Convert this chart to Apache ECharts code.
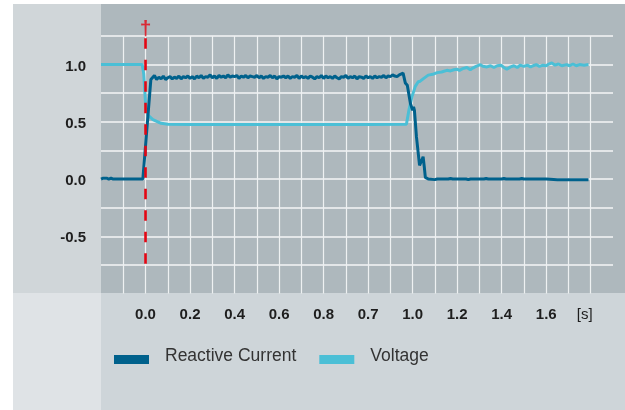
<!DOCTYPE html>
<html>
<head>
<meta charset="utf-8">
<script src="https://cdn.jsdelivr.net/npm/echarts@6/dist/echarts.min.js"></script>
<style>
html,body{margin:0;padding:0;background:#fff;}
#chart{width:625px;height:410px;}
</style>
</head>
<body>
<div id="chart"></div>
<script>
// x positions are in axis-position units (one labelled step = 0.2)
var xTickLabels = ["0.0","0.2","0.4","0.6","0.8","0.7","1.0","1.2","1.4","1.6","[s]"];
var yTickLabels = [-0.5, 0.0, 0.5, 1.0];
var seriesNames = ["Reactive Current", "Voltage"];
var faultTime = 0;

var reactiveCurrent = [
  [-0.2,0],[-0.19,0.008],[-0.185,0],[-0.175,0.008],[-0.165,0],[-0.155,0.008],[-0.145,0],[-0.1,0],[-0.012,0],
  [0.024,0.87],
  [0.03,0.88],[0.04,0.905],[0.05,0.87],[0.06,0.89],[0.07,0.875],[0.08,0.9],[0.09,0.87],[0.10,0.885],[0.11,0.895],[0.12,0.875],
  [0.13,0.89],[0.14,0.88],[0.15,0.9],[0.16,0.875],[0.17,0.895],[0.18,0.885],[0.19,0.9],[0.20,0.88],[0.21,0.895],[0.22,0.875],
  [0.23,0.9],[0.24,0.885],[0.25,0.905],[0.26,0.88],[0.27,0.895],[0.28,0.89],[0.29,0.91],[0.30,0.885],[0.31,0.9],[0.32,0.88],
  [0.33,0.905],[0.34,0.89],[0.35,0.9],[0.36,0.885],[0.37,0.91],[0.38,0.89],[0.39,0.9],[0.40,0.895],[0.41,0.905],[0.42,0.88],
  [0.43,0.9],[0.44,0.89],[0.45,0.905],[0.46,0.885],[0.47,0.9],[0.48,0.895],[0.49,0.89],[0.50,0.905],[0.51,0.885],[0.52,0.9],
  [0.53,0.88],[0.54,0.895],[0.55,0.89],[0.56,0.905],[0.57,0.885],[0.58,0.9],[0.59,0.875],[0.60,0.895],[0.61,0.89],[0.62,0.9],
  [0.63,0.885],[0.64,0.9],[0.65,0.88],[0.66,0.895],[0.67,0.89],[0.68,0.905],[0.69,0.88],[0.70,0.9],[0.71,0.885],[0.72,0.895],
  [0.73,0.88],[0.74,0.9],[0.75,0.89],[0.76,0.875],[0.77,0.895],[0.78,0.885],[0.79,0.905],[0.80,0.88],[0.81,0.9],[0.82,0.885],
  [0.83,0.895],[0.84,0.88],[0.85,0.9],[0.86,0.885],[0.87,0.875],[0.88,0.895],[0.89,0.89],[0.90,0.905],[0.91,0.88],[0.92,0.895],
  [0.93,0.885],[0.94,0.9],[0.95,0.875],[0.96,0.895],[0.97,0.89],[0.98,0.88],[0.99,0.9],[1.00,0.885],[1.01,0.895],[1.02,0.88],
  [1.03,0.9],[1.04,0.885],[1.05,0.895],[1.06,0.89],[1.07,0.905],[1.08,0.885],[1.09,0.9],[1.10,0.895],[1.11,0.91],[1.12,0.9],
  [1.13,0.895],[1.14,0.91],[1.157,0.925],[1.167,0.84],[1.176,0.82],[1.19,0.66],[1.2,0.6],[1.204,0.63],[1.208,0.6],
  [1.217,0.37],[1.231,0.12],[1.24,0.16],[1.247,0.195],[1.252,0.11],[1.257,0.015],[1.27,0.0],
  [1.3,-0.005],[1.31,0],[1.36,0],[1.37,0.005],[1.38,0],[1.44,0],[1.45,-0.005],[1.46,0],[1.52,0],[1.53,0.005],[1.54,0],
  [1.6,0],[1.61,0.005],[1.62,0],[1.68,0],[1.69,0.005],[1.7,0],[1.8,0],[1.85,-0.005],[1.99,-0.005]
];

var voltage = [
  [-0.2,1.0],[-0.015,1.0],[-0.008,0.92],[0.0,0.66],[0.01,0.56],[0.033,0.52],[0.07,0.487],[0.1,0.478],[0.2,0.476],
  [0.6,0.476],[1.0,0.476],[1.172,0.478],[1.183,0.6],[1.197,0.72],[1.212,0.81],[1.225,0.85],[1.234,0.855],
  [1.25,0.88],[1.27,0.908],[1.29,0.915],[1.31,0.93],[1.33,0.935],[1.354,0.95],[1.37,0.945],[1.385,0.955],
  [1.399,0.96],[1.41,0.95],[1.425,0.965],[1.444,0.975],[1.459,0.955],[1.47,0.97],[1.485,0.985],[1.504,1.0],
  [1.515,0.985],[1.534,0.98],[1.55,0.99],[1.565,0.975],[1.58,0.99],[1.597,0.995],[1.61,0.975],[1.623,0.96],
  [1.64,0.98],[1.655,0.99],[1.67,0.975],[1.683,0.995],[1.7,0.985],[1.715,0.995],[1.73,0.98],[1.741,0.99],
  [1.755,1.0],[1.77,0.985],[1.785,0.995],[1.8,0.99],[1.812,1.005],[1.825,1.015],[1.84,0.995],[1.855,1.005],
  [1.87,0.99],[1.892,1.0],[1.905,0.99],[1.92,1.005],[1.935,0.99],[1.95,1.0],[1.97,0.995],[1.99,1.0]
];

var faultLine = [[faultTime,1.23],[faultTime,-0.74]];
var faultMark = [[faultTime,1.31]];

var colCurrent = "#00618c";
var colVoltage = "#4bbfd6";
var colFault = "#e30613";

var chart = echarts.init(document.getElementById('chart'), null, {renderer:'canvas'});
var option = {
  animation: false,
  backgroundColor: '#ffffff',
  graphic: [
    {type:'rect', z:-10, silent:true, shape:{x:13,y:4,width:88,height:289}, style:{fill:'#d0d6d9'}},
    {type:'rect', z:-10, silent:true, shape:{x:101,y:4,width:524,height:289}, style:{fill:'#aeb8bd'}},
    {type:'rect', z:-10, silent:true, shape:{x:13,y:293,width:88,height:117}, style:{fill:'#dfe3e6'}},
    {type:'rect', z:-10, silent:true, shape:{x:101,y:293,width:524,height:117}, style:{fill:'#ced5d9'}}
  ],
  grid: {left:101, right:12, top:36, bottom:116.5, containLabel:false},
  legend: {
    data: seriesNames,
    left: 114, top: 347, padding: 0,
    itemWidth: 35, itemHeight: 9, itemGap: 23,
    icon: 'rect',
    formatter: '{a|{name}}',
    textStyle: {
      fontFamily:'Liberation Sans', fontSize:17.5, color:'#333',
      rich: {a: {fontFamily:'Liberation Sans', fontSize:17.5, color:'#333', padding:[0,0,7,11]}}
    }
  },
  xAxis: {
    type:'value', min:-0.2, max:2.1, interval:0.1,
    axisLine:{show:false}, axisTick:{show:false},
    splitLine:{show:true, showMinLine:false, showMaxLine:false, lineStyle:{color:'#eef1f2', width:1.2}},
    axisLabel:{
      margin:14, fontFamily:'Liberation Sans', fontSize:15, fontWeight:'bold', color:'#1e1e1e',
      showMinLabel:false, showMaxLabel:false,
      formatter:function(v){
        var i = Math.round(v*10);
        if (i < 0 || i % 2 !== 0) return '';
        var k = i/2;
        if (k >= xTickLabels.length) return '';
        if (xTickLabels[k] === '[s]') return '{u|[s]}';
        return xTickLabels[k];
      },
      rich:{u:{fontFamily:'Liberation Sans', fontSize:15, fontWeight:'normal', color:'#1e1e1e', padding:[0,12,0,0]}}
    }
  },
  yAxis: {
    type:'value', min:-1.0, max:1.25, interval:0.25,
    axisLine:{show:false}, axisTick:{show:false},
    splitLine:{show:true, showMinLine:false, showMaxLine:true, lineStyle:{color:'#f4f6f7', width:1.5}},
    axisLabel:{
      margin:15, fontFamily:'Liberation Sans', fontSize:15, fontWeight:'bold', color:'#1e1e1e',
      formatter:function(v){
        for (var j=0;j<yTickLabels.length;j++){ if (Math.abs(yTickLabels[j]-v)<1e-6) return '{b|' + v.toFixed(1) + '}'; }
        return '';
      },
      rich:{b:{fontFamily:'Liberation Sans', fontSize:15, fontWeight:'bold', color:'#1e1e1e', padding:[4,0,0,0]}}
    }
  },
  series: [
    {name:seriesNames[1], type:'line', data:voltage, showSymbol:false, symbol:'none', z:3,
     lineStyle:{color:colVoltage, width:3}, itemStyle:{color:colVoltage}},
    {name:seriesNames[0], type:'line', data:reactiveCurrent, showSymbol:false, symbol:'none', z:4,
     lineStyle:{color:colCurrent, width:3}, itemStyle:{color:colCurrent}},
    {name:'fault', type:'line', data:faultLine, showSymbol:false, symbol:'none', z:6, clip:false,
     lineStyle:{color:colFault, width:2.6, type:[10.5,11]}},
    {name:'faultMark', type:'scatter', data:faultMark, symbolSize:0, z:6, clip:false, silent:true,
     label:{show:true, position:'inside', formatter:'\u2020', fontFamily:'Liberation Sans', fontWeight:'bold', fontSize:21, color:colFault}}
  ]
};
chart.setOption(option);
</script>
</body>
</html>
